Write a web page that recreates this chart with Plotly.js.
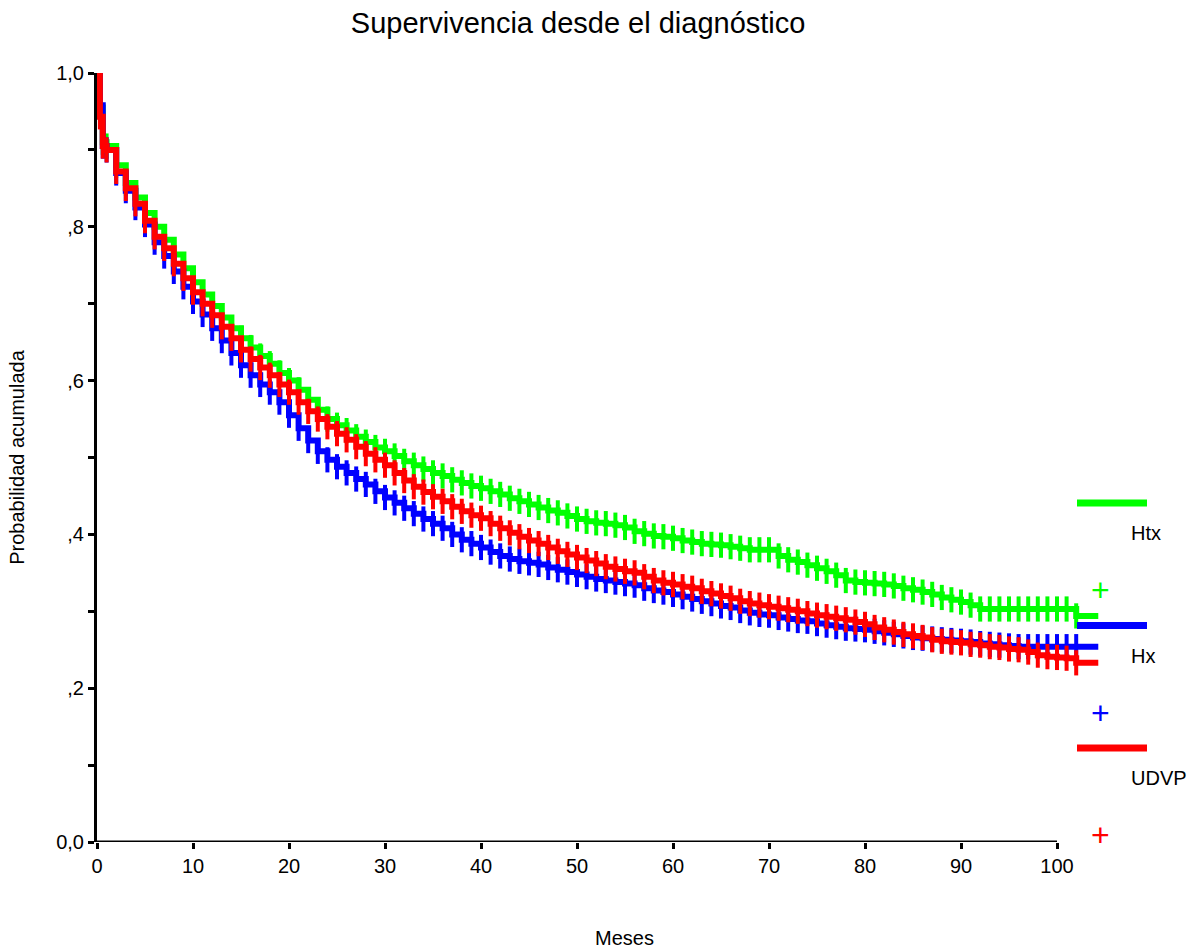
<!DOCTYPE html>
<html>
<head>
<meta charset="utf-8">
<script src="https://cdn.plot.ly/plotly-3.0.1.min.js"></script>
<style>html,body{margin:0;padding:0;background:#fff;}</style>
</head>
<body>
<div id="chart" style="width:1192px;height:949px;"></div>
<script>
// Time points (months)
const months = [0, 0.3, 0.6,
  1, 2, 3, 4, 5, 6, 7, 8, 9, 10,
  11, 12, 13, 14, 15, 16, 17, 18, 19, 20,
  21, 22, 23, 24, 25, 26, 27, 28, 29, 30,
  31, 32, 33, 34, 35, 36, 37, 38, 39, 40,
  41, 42, 43, 44, 45, 46, 47, 48, 49, 50,
  51, 52, 53, 54, 55, 56, 57, 58, 59, 60,
  61, 62, 63, 64, 65, 66, 67, 68, 69, 70,
  71, 72, 73, 74, 75, 76, 77, 78, 79, 80,
  81, 82, 83, 84, 85, 86, 87, 88, 89, 90,
  91, 92, 93, 94, 95, 96, 97, 98, 99, 100,
  101, 102, 104.3];

const htx = [1.0, 0.955, 0.91,
  0.905, 0.88, 0.857, 0.838, 0.818, 0.80, 0.783, 0.764, 0.746, 0.728,
  0.712, 0.697, 0.682, 0.668, 0.655, 0.643, 0.632, 0.622, 0.61, 0.60,
  0.588, 0.575, 0.562, 0.55, 0.542, 0.535, 0.527, 0.52, 0.513, 0.508,
  0.502, 0.495, 0.49, 0.485, 0.48, 0.476, 0.471, 0.467, 0.463, 0.46,
  0.456, 0.452, 0.447, 0.443, 0.439, 0.435, 0.431, 0.428, 0.424, 0.42,
  0.417, 0.415, 0.414, 0.412, 0.409, 0.404, 0.401, 0.398, 0.397, 0.395,
  0.392, 0.39, 0.388, 0.387, 0.386, 0.384, 0.382, 0.38, 0.38, 0.38,
  0.372, 0.367, 0.364, 0.36, 0.356, 0.352, 0.347, 0.34, 0.338, 0.337,
  0.336, 0.335, 0.333, 0.33, 0.328, 0.325, 0.322, 0.318, 0.315, 0.312,
  0.308, 0.303, 0.303, 0.303, 0.303, 0.303, 0.303, 0.303, 0.303, 0.303,
  0.303, 0.294, 0.294];

const hx = [1.0, 0.958, 0.905,
  0.90, 0.87, 0.847, 0.825, 0.803, 0.78, 0.762, 0.742, 0.722, 0.703,
  0.686, 0.668, 0.652, 0.636, 0.62, 0.607, 0.595, 0.585, 0.572, 0.555,
  0.538, 0.522, 0.508, 0.497, 0.488, 0.48, 0.472, 0.465, 0.456, 0.448,
  0.441, 0.434, 0.427, 0.42, 0.414, 0.408, 0.40, 0.393, 0.388, 0.383,
  0.377, 0.372, 0.368, 0.365, 0.363, 0.361, 0.357, 0.354, 0.351, 0.348,
  0.345, 0.342, 0.34, 0.338, 0.336, 0.334, 0.33, 0.327, 0.325, 0.322,
  0.319, 0.316, 0.313, 0.31, 0.307, 0.305, 0.301, 0.298, 0.296, 0.295,
  0.292, 0.29, 0.288, 0.287, 0.284, 0.282, 0.28, 0.278, 0.277, 0.276,
  0.274, 0.272, 0.27, 0.268, 0.266, 0.265, 0.264, 0.263, 0.262, 0.261,
  0.26, 0.258, 0.257, 0.256, 0.255, 0.254, 0.254, 0.254, 0.254, 0.254,
  0.254, 0.254, 0.254];

const udvp = [1.0, 0.943, 0.905,
  0.90, 0.872, 0.85, 0.83, 0.808, 0.787, 0.772, 0.752, 0.733, 0.715,
  0.70, 0.685, 0.67, 0.655, 0.64, 0.628, 0.617, 0.607, 0.595, 0.585,
  0.572, 0.56, 0.55, 0.54, 0.531, 0.523, 0.514, 0.505, 0.497, 0.49,
  0.48, 0.47, 0.462, 0.455, 0.449, 0.443, 0.436, 0.43, 0.425, 0.421,
  0.414, 0.408, 0.402, 0.397, 0.392, 0.388, 0.383, 0.378, 0.374, 0.37,
  0.366, 0.362, 0.358, 0.355, 0.352, 0.35, 0.345, 0.34, 0.337, 0.335,
  0.332, 0.33, 0.326, 0.323, 0.32, 0.317, 0.313, 0.31, 0.308, 0.306,
  0.304, 0.302, 0.30, 0.297, 0.295, 0.293, 0.291, 0.289, 0.286, 0.283,
  0.279, 0.276, 0.273, 0.27, 0.268, 0.266, 0.263, 0.261, 0.26, 0.259,
  0.257, 0.256, 0.254, 0.253, 0.251, 0.25, 0.247, 0.243, 0.241, 0.24,
  0.239, 0.233, 0.233];

const seriesNames = ["Htx", "Hx", "UDVP"];
const seriesValues = [htx, hx, udvp];
const seriesColors = ["#00ff00", "#0000ff", "#ff0000"];

const xTickVals = [0, 10, 20, 30, 40, 50, 60, 70, 80, 90, 100];
const yTickVals = [0, 0.1, 0.2, 0.3, 0.4, 0.5, 0.6, 0.7, 0.8, 0.9, 1.0];
const yTickText = ["0,0", "", ",2", "", ",4", "", ",6", "", ",8", "", "1,0"];

const FONT = "Liberation Sans, Arial, Helvetica, sans-serif";

const traces = [];
seriesNames.forEach((name, i) => {
  const vals = seriesValues[i];
  traces.push({
    x: months, y: vals, name: name, type: "scatter", mode: "lines",
    line: {shape: "hv", color: seriesColors[i], width: 6},
    showlegend: false, hoverinfo: "skip"
  });
  traces.push({
    x: months.slice(1, -1), y: vals.slice(1, -1), name: name + " censurado",
    type: "scatter", mode: "markers",
    marker: {symbol: "line-ns", size: 18, color: seriesColors[i], line: {width: 4, color: seriesColors[i]}},
    showlegend: false, hoverinfo: "skip", cliponaxis: false
  });
});

// Plot geometry helpers for the hand-drawn legend (paper coords)
const plotL = 97, plotR = 1152, plotT = 73, plotB = 842;
const px2paperX = p => (p - plotL) / (plotR - plotL);
const py2paperY = p => (plotB - p) / (plotB - plotT);

const shapes = [
  {type: "line", xref: "x", yref: "y", x0: 0, x1: 100, y0: 0, y1: 0, line: {color: "#000", width: 3}}
];
const annotations = [];
seriesNames.forEach((name, i) => {
  const base = 503 + i * 122.5;
  shapes.push({type: "line", xref: "paper", yref: "paper",
    x0: px2paperX(1077), x1: px2paperX(1147), y0: py2paperY(base), y1: py2paperY(base),
    line: {color: seriesColors[i], width: 7}});
  annotations.push({xref: "paper", yref: "paper", x: px2paperX(1129), y: py2paperY(base + 30),
    xanchor: "left", yanchor: "middle", text: name, showarrow: false,
    font: {family: FONT, size: 20, color: "#000"}});
  annotations.push({xref: "paper", yref: "paper", x: px2paperX(1100), y: py2paperY(base + 87),
    xanchor: "center", yanchor: "middle", text: "+", showarrow: false,
    font: {family: FONT, size: 32, color: seriesColors[i]}});
});

const layout = {
  width: 1192, height: 949,
  margin: {l: plotL, r: 1192 - plotR, t: plotT, b: 949 - plotB},
  paper_bgcolor: "#fff", plot_bgcolor: "#fff",
  font: {family: FONT, size: 20, color: "#000"},
  title: {text: "Supervivencia desde el diagnóstico", font: {family: FONT, size: 29, color: "#000"},
    xref: "container", yref: "container", x: 0.485, xanchor: "center", y: 0.976, yanchor: "middle"},
  xaxis: {
    range: [0, (plotR - plotL) / 9.6], tickvals: xTickVals, ticktext: xTickVals.map(String),
    showgrid: false, zeroline: false, showline: false,
    ticks: "outside", ticklen: 6, tickwidth: 3, tickcolor: "#000",
    tickfont: {family: FONT, size: 20},
    title: {text: "Meses", font: {family: FONT, size: 20}, standoff: 54}
  },
  yaxis: {
    range: [0, 1], tickvals: yTickVals, ticktext: yTickText,
    showgrid: false, zeroline: false, showline: true, linecolor: "#000", linewidth: 3,
    ticks: "outside", ticklen: 6, tickwidth: 3, tickcolor: "#000",
    tickfont: {family: FONT, size: 20},
    title: {text: "Probabilidad acumulada", font: {family: FONT, size: 20}, standoff: 27}
  },
  shapes: shapes,
  annotations: annotations,
  showlegend: false
};

Plotly.newPlot("chart", traces, layout, {displayModeBar: false, staticPlot: true});
</script>
</body>
</html>
